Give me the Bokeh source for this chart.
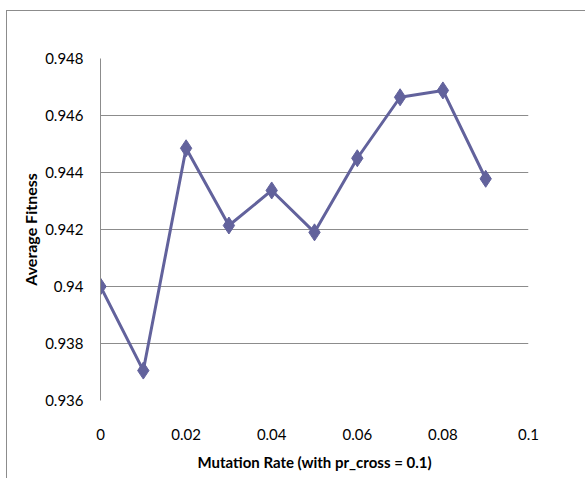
from bokeh.plotting import figure
from bokeh.models import FixedTicker, InlineStyleSheet
from bokeh.embed import file_html
from bokeh.resources import INLINE

mutation_rate = [0.0, 0.01, 0.02, 0.03, 0.04, 0.05, 0.06, 0.07, 0.08, 0.09]
avg_fitness = [0.9400, 0.93705, 0.94485, 0.94214, 0.94337, 0.94190, 0.94450, 0.94664, 0.94688, 0.94378]

x_ticks = [0.0, 0.02, 0.04, 0.06, 0.08, 0.1]
x_tick_labels = ["0", "0.02", "0.04", "0.06", "0.08", "0.1"]
y_ticks = [0.936, 0.938, 0.940, 0.942, 0.944, 0.946, 0.948]
y_tick_labels = ["0.936", "0.938", "0.94", "0.942", "0.944", "0.946", "0.948"]

FONT = "Lato"
LINE = "#62629C"

p = figure(width=585, height=478, output_backend="svg", toolbar_location=None,
           x_range=(0, 0.1), y_range=(0.936, 0.948),
           min_border_left=100, min_border_right=57, min_border_top=58, min_border_bottom=78)
p.outline_line_color = None
p.background_fill_color = "white"
p.border_fill_color = "white"

p.xaxis.ticker = FixedTicker(ticks=x_ticks)
p.yaxis.ticker = FixedTicker(ticks=y_ticks)
p.xaxis.major_label_overrides = {t: l for t, l in zip(x_ticks, x_tick_labels)}
p.yaxis.major_label_overrides = {t: l for t, l in zip(y_ticks, y_tick_labels)}

for ax in (p.xaxis, p.yaxis):
    ax.major_tick_line_color = None
    ax.minor_tick_line_color = None
    ax.major_label_text_font = FONT
    ax.major_label_text_font_size = "15px"
    ax.major_label_text_color = "#000000"
    ax.axis_label_text_font = FONT
    ax.axis_label_text_font_style = "bold"
    ax.axis_label_text_color = "#000000"

p.xaxis.axis_label_text_font_size = "15px"
p.yaxis.axis_label_text_font_size = "16px"
p.xaxis.axis_line_color = None
p.yaxis.axis_line_color = "#8C8C8C"
p.xaxis.major_label_standoff = 22
p.yaxis.major_label_standoff = 11
p.xaxis.axis_label_standoff = 10
p.yaxis.axis_label_standoff = 2
p.xaxis.axis_label = "Mutation Rate (with pr_cross = 0.1)"
p.yaxis.axis_label = "Average Fitness"

p.xgrid.grid_line_color = None
p.ygrid.grid_line_color = "#8C8C8C"
p.ygrid.grid_line_width = 1

p.line(mutation_rate, avg_fitness, line_color=LINE, line_width=3)
p.scatter(mutation_rate, avg_fitness, marker="diamond", size=17, fill_color=LINE, line_color=LINE)

p.stylesheets = [InlineStyleSheet(css="""
:host { position: relative; overflow: hidden; }
:host::after {
  content: ''; position: absolute; left: 6px; top: 10px;
  width: 600px; height: 600px; box-sizing: border-box;
  border: 1px solid #8C8C8C; pointer-events: none;
}
""")]

open("out.html", "w").write(file_html(p, INLINE))
